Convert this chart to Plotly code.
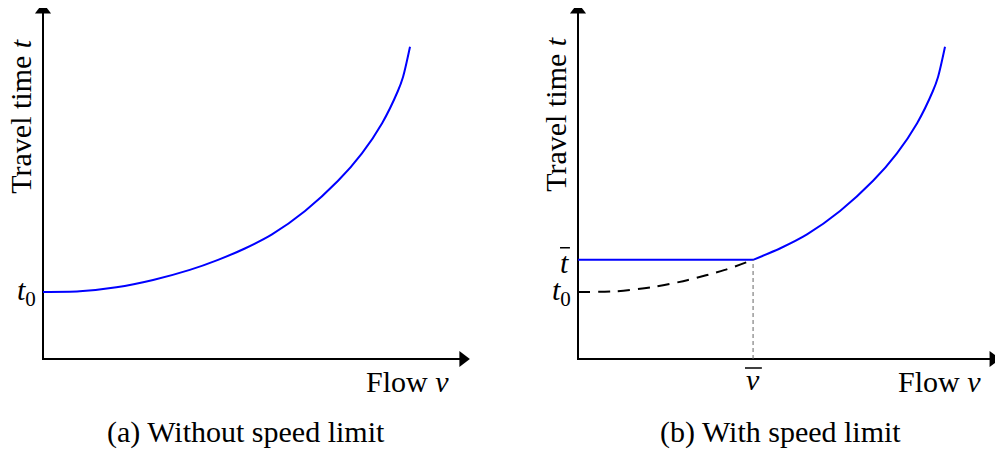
import plotly.graph_objects as go
import numpy as np

# ---- data ----
flow = [0, 10, 20, 30, 40, 47.7, 55, 62.4, 71.4, 80.4, 86.9, 92.4, 96.7, 98.1, 100]
travel_time = [1.00, 1.01, 1.07, 1.18, 1.33, 1.48, 1.65, 1.86, 2.21, 2.66, 3.07, 3.52, 4.00, 4.21, 4.66]
t0 = 1.0
v_bar = 47.7
t_bar = 1.48

flow = np.array(flow, dtype=float)
travel_time = np.array(travel_time, dtype=float)

FONT = "Liberation Serif"
FS = 30
BLUE = "#0000ff"

fig = go.Figure()

def add(xs, ys, ax, **line):
    fig.add_trace(go.Scatter(x=xs, y=ys, mode="lines", line=line,
                             xaxis="x" if ax == 1 else "x2", yaxis="y" if ax == 1 else "y2",
                             showlegend=False, hoverinfo="skip"))

# axes with arrow heads
for ax, xtip in ((1, 116.3), (2, 115.0)):
    ytip = 5.31
    add([0, 0, xtip - 1.9], [ytip - 0.1, 0, 0], ax, color="black", width=2)
    fig.add_trace(go.Scatter(x=[0, xtip - 1.9], y=[ytip - 0.1, 0], mode="markers",
                             marker=dict(symbol=["triangle-up", "triangle-right"], size=14, color="black"),
                             xaxis="x" if ax == 1 else "x2", yaxis="y" if ax == 1 else "y2",
                             showlegend=False, hoverinfo="skip"))

# (a) Without speed limit
add(flow, travel_time, 1, color=BLUE, width=2, shape="spline", smoothing=0.8)

# (b) With speed limit
low = flow <= v_bar
high = flow >= v_bar
add(flow[low], travel_time[low], 2, color="black", width=2, dash="12px,8px", shape="spline", smoothing=0.8)
add([0, v_bar], [t_bar, t_bar], 2, color=BLUE, width=2)
add(flow[high], travel_time[high], 2, color=BLUE, width=2, shape="spline", smoothing=0.8)
add([v_bar, v_bar], [0, t_bar], 2, color="#666666", width=1, dash="4px,3px")

# overline bars of the t-bar / v-bar labels
add([-4.9, -2.2], [t_bar + 0.18, t_bar + 0.18], 2, color="black", width=1.5)
add([v_bar - 2.2, v_bar + 2.4], [-0.134, -0.134], 2, color="black", width=1.5)

annos = []

def label(xr, yr, x, y, text, **kw):
    d = dict(x=x, y=y, xref=xr, yref=yr, text=text, showarrow=False,
             xanchor="center", yanchor="middle",
             font=dict(family=FONT, size=FS, color="black"))
    d.update(kw)
    annos.append(d)

# left panel labels
label("x", "y", -6.2, 3.62, "Travel time <i>t</i>", textangle=-90)
label("x", "y", -4.6, t0, "<i>t</i><sub>0</sub>")
label("x", "y", 99.2, -0.34, "Flow <i>v</i>")
label("paper", "paper", 0.239, 0.0385, "(a) Without speed limit")

# right panel labels
label("x2", "y2", -6.0, 3.66, "Travel time <i>t</i>", textangle=-90)
label("x2", "y2", -4.6, t0, "<i>t</i><sub>0</sub>")
label("x2", "y2", -3.6, t_bar - 0.04, "<i>t</i>")
label("x2", "y2", v_bar, -0.31, "<i>v</i>")
label("x2", "y2", 98.6, -0.34, "Flow <i>v</i>")
label("paper", "paper", 0.776, 0.0385, "(b) With speed limit")

ax_common = dict(visible=False, showgrid=False, zeroline=False, fixedrange=True)
fig.update_layout(
    width=995, height=441,
    margin=dict(l=0, r=0, t=0, b=0),
    font=dict(family=FONT, size=FS, color="black"),
    paper_bgcolor="white", plot_bgcolor="white",
    xaxis=dict(domain=[0, 0.5], range=[-9.537, 126.02], **ax_common),
    yaxis=dict(domain=[0, 1], range=[-1.343, 5.239], **ax_common),
    xaxis2=dict(domain=[0.5, 1], range=[-19.755, 115.80], anchor="y2", **ax_common),
    yaxis2=dict(domain=[0, 1], range=[-1.343, 5.239], anchor="x2", **ax_common),
    annotations=annos,
)

fig.write_html("out.html")
